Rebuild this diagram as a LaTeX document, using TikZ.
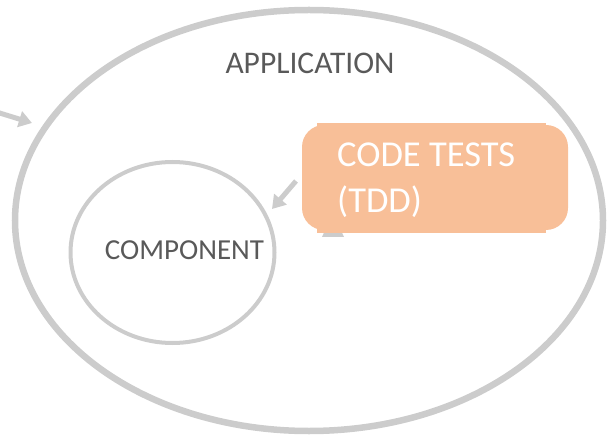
\documentclass[tikz,border=0pt]{standalone}
\usepackage{fontspec}
\setmainfont{Carlito}
\usetikzlibrary{shapes.geometric,arrows.meta}

\definecolor{ringgray}{RGB}{204,204,204}
\definecolor{labelgray}{RGB}{89,89,89}
\definecolor{testorange}{RGB}{248,191,152}

\tikzset{
  ring/.style={draw=ringgray, ellipse, inner sep=0pt},
  flowarrow/.style={draw=ringgray, line width=5pt,
    -{Triangle[width=16pt,length=13pt]}},
  scopelabel/.style={text=labelgray, anchor=base, inner sep=0pt},
  testtext/.style={text=white, anchor=base west, inner sep=0pt,
    font=\fontsize{36.5}{45}\selectfont},
}

\begin{document}
\begin{tikzpicture}[x=1pt,y=-1pt]
  \useasboundingbox (0,0) rectangle (607,438);

  % outer scope: the application
  \node[ring, line width=6.5pt, minimum width=588pt, minimum height=421pt]
    (app) at (309,220.5) {};
  \node[scopelabel, font=\fontsize{31.5}{38}\selectfont] (applabel) at (310,74) {APPLICATION};

  % inner scope: the component
  \node[ring, line width=4pt, minimum width=204pt, minimum height=181pt]
    (comp) at (172.5,252.5) {};
  \node[scopelabel, font=\fontsize{29}{35}\selectfont] (complabel) at (184.5,259) {COMPONENT};

  % incoming arrow from outside the application
  \coordinate (inflow) at (-2,112.5);
  \coordinate (inflowtip) at (32,123);
  \draw[flowarrow] (inflow) -- (inflowtip);

  % arrow head peeking out below the test box
  \coordinate (hidA) at (322,237);
  \coordinate (hidB) at (344,237);
  \coordinate (hidC) at (333,213);
  \fill[ringgray] (hidA) -- (hidB) -- (hidC) -- cycle;

  % code tests box
  \node[fill=testorange, rounded corners=22pt, minimum width=266pt, minimum height=105pt,
        inner sep=0pt] (tests) at (435,177.5) {};
  \node[fill=testorange, minimum width=229pt, minimum height=110pt, inner sep=0pt]
    (testsbody) at (431.5,178) {};
  \node[testtext] (testline1) at (337,167) {CODE TESTS};
  \node[testtext] (testline2) at (337,213) {(TDD)};

  % arrow from the tests into the component
  \coordinate (testout) at (296,181);
  \coordinate (comptip) at (272,209);
  \draw[flowarrow] (testout) -- (comptip);
\end{tikzpicture}
\end{document}
